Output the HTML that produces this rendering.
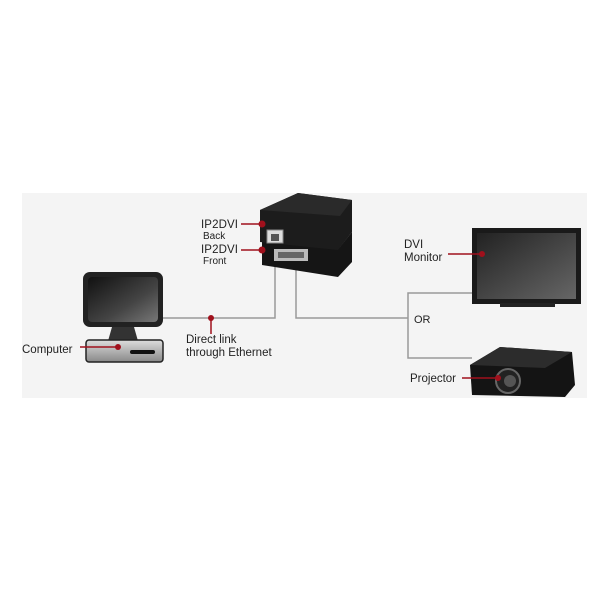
<!DOCTYPE html>
<html><head><style>
body{margin:0;background:#fff;}
svg{display:block}
text{font-family:"Liberation Sans",sans-serif;fill:#222}
</style></head><body>
<svg width="604" height="604" viewBox="0 0 604 604">
<defs>
<linearGradient id="scr" x1="0" y1="0" x2="1" y2="1"><stop offset="0" stop-color="#111"/><stop offset="0.6" stop-color="#444"/><stop offset="1" stop-color="#777"/></linearGradient>
<linearGradient id="base" x1="0" y1="0" x2="0" y2="1"><stop offset="0" stop-color="#ddd"/><stop offset="1" stop-color="#888"/></linearGradient>
<linearGradient id="mscr" x1="0" y1="0" x2="1" y2="1"><stop offset="0" stop-color="#222"/><stop offset="1" stop-color="#666"/></linearGradient>
</defs>
<rect x="22" y="193" width="565" height="205" fill="#f4f4f4"/>
<g stroke="#999" stroke-width="1.5" fill="none">
<polyline points="163,318 275,318 275,245"/>
<polyline points="296,255 296,318 408,318"/>
<polyline points="472,293 408,293 408,358 472,358"/>
</g>
<!-- computer -->
<rect x="83" y="272" width="80" height="55" rx="7" fill="#222"/>
<rect x="88" y="277" width="70" height="45" rx="4" fill="url(#scr)"/>
<polygon points="112,327 134,327 138,341 108,341" fill="#333"/>
<rect x="86" y="340" width="77" height="22" rx="3" fill="url(#base)" stroke="#222" stroke-width="1.5"/>
<rect x="130" y="350" width="25" height="4" rx="2" fill="#111"/>
<line x1="80" y1="347" x2="118" y2="347" stroke="#a0101c" stroke-width="1.5"/>
<circle cx="118" cy="347" r="3" fill="#a0101c"/>
<text x="22" y="353" font-size="11.5">Computer</text>
<line x1="211" y1="318" x2="211" y2="334" stroke="#a0101c" stroke-width="1.5"/>
<circle cx="211" cy="318" r="3" fill="#a0101c"/>
<text x="186" y="343" font-size="11.5">Direct link</text>
<text x="186" y="356" font-size="11.5">through Ethernet</text>
<!-- IP2DVI device -->
<polygon points="262,240 340,247 352,232 352,262 338,277 262,265" fill="#151515"/>
<polygon points="260,210 298,193 352,200 352,232 338,250 260,242" fill="#1c1c1c"/>
<polygon points="260,210 298,193 352,200 340,216" fill="#2a2a2a"/>
<rect x="267" y="230" width="16" height="13" fill="#ddd" stroke="#888"/>
<rect x="271" y="234" width="8" height="7" fill="#555"/>
<rect x="274" y="249" width="34" height="12" fill="#bbb"/>
<rect x="278" y="252" width="26" height="6" fill="#666"/>
<line x1="241" y1="224" x2="261" y2="224" stroke="#a0101c" stroke-width="1.5"/>
<circle cx="262" cy="224" r="3.5" fill="#a0101c"/>
<line x1="241" y1="250" x2="261" y2="250" stroke="#a0101c" stroke-width="1.5"/>
<circle cx="262" cy="250" r="3.5" fill="#a0101c"/>
<text x="201" y="228" font-size="11.5" textLength="37">IP2DVI</text>
<text x="203" y="239" font-size="10">Back</text>
<text x="201" y="253" font-size="11.5" textLength="37">IP2DVI</text>
<text x="203" y="264" font-size="10">Front</text>
<text x="414" y="323" font-size="11" fill="#444">OR</text>
<!-- monitor -->
<rect x="472" y="228" width="109" height="76" fill="#1a1a1a"/>
<rect x="477" y="233" width="99" height="66" fill="url(#mscr)"/>
<rect x="500" y="303" width="55" height="4" fill="#222"/>
<line x1="448" y1="254" x2="482" y2="254" stroke="#a0101c" stroke-width="1.5"/>
<circle cx="482" cy="254" r="3" fill="#a0101c"/>
<text x="404" y="248" font-size="11.5">DVI</text>
<text x="404" y="261" font-size="11.5">Monitor</text>
<!-- projector -->
<polygon points="470,365 500,347 572,352 575,385 565,397 472,395" fill="#141414"/>
<polygon points="470,365 500,347 572,352 545,368" fill="#2c2c2c"/>
<circle cx="508" cy="381" r="12" fill="#222" stroke="#666" stroke-width="2"/>
<circle cx="510" cy="381" r="6" fill="#555"/>
<line x1="462" y1="378" x2="498" y2="378" stroke="#a0101c" stroke-width="1.5"/>
<circle cx="498" cy="378" r="3" fill="#a0101c"/>
<text x="410" y="382" font-size="11.5">Projector</text>
</svg>
</body></html>
